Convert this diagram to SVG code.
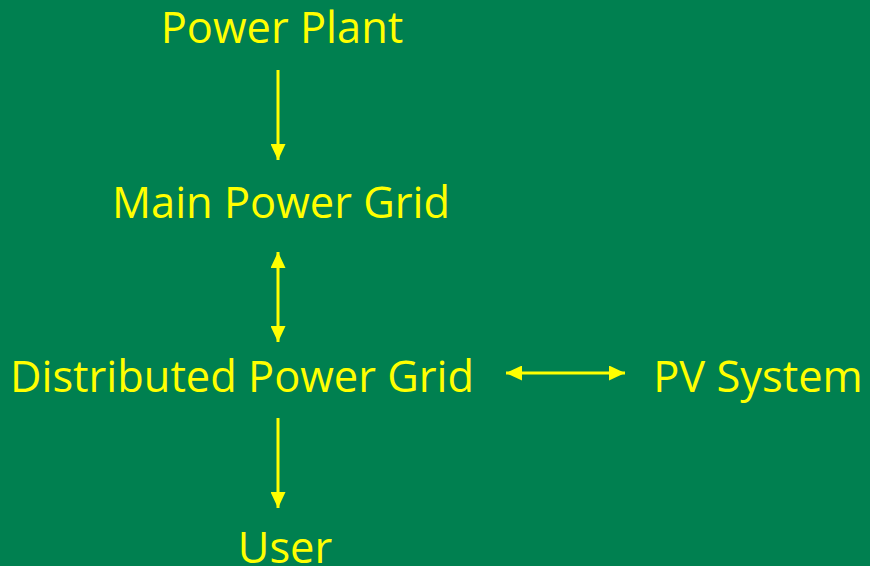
<svg xmlns="http://www.w3.org/2000/svg" width="870" height="566" viewBox="0 0 870 566">
<style>
text{font-family:"Open Sans","Noto Sans","Liberation Sans",sans-serif;font-size:43.4px;fill:#FFFF00;text-anchor:middle}
.c line{stroke:#FFFF00;stroke-width:3}
</style>
<defs>
<marker id="ah" viewBox="0 0 16 15" refX="16" refY="7.5" markerUnits="userSpaceOnUse" markerWidth="16" markerHeight="15" orient="auto-start-reverse">
<path d="M0,0 L16,7.5 L0,15 Z" fill="#FFFF00"/>
</marker>
</defs>
<rect width="870" height="566" fill="#008050"/>
<g id="power-plant"><text x="282" y="43">Power Plant</text></g>
<g id="main-grid"><text x="281" y="218">Main Power Grid</text></g>
<g id="distributed-grid"><text x="242" y="392">Distributed Power Grid</text></g>
<g id="pv-system"><text x="758" y="392">PV System</text></g>
<g id="user"><text x="285" y="563">User</text></g>
<g class="c" id="connectors">
<line x1="278" y1="70" x2="278" y2="160" marker-end="url(#ah)"/>
<line x1="278" y1="252" x2="278" y2="342" marker-start="url(#ah)" marker-end="url(#ah)"/>
<line x1="506" y1="373" x2="625" y2="373" marker-start="url(#ah)" marker-end="url(#ah)"/>
<line x1="278" y1="418" x2="278" y2="508" marker-end="url(#ah)"/>
</g>
</svg>
